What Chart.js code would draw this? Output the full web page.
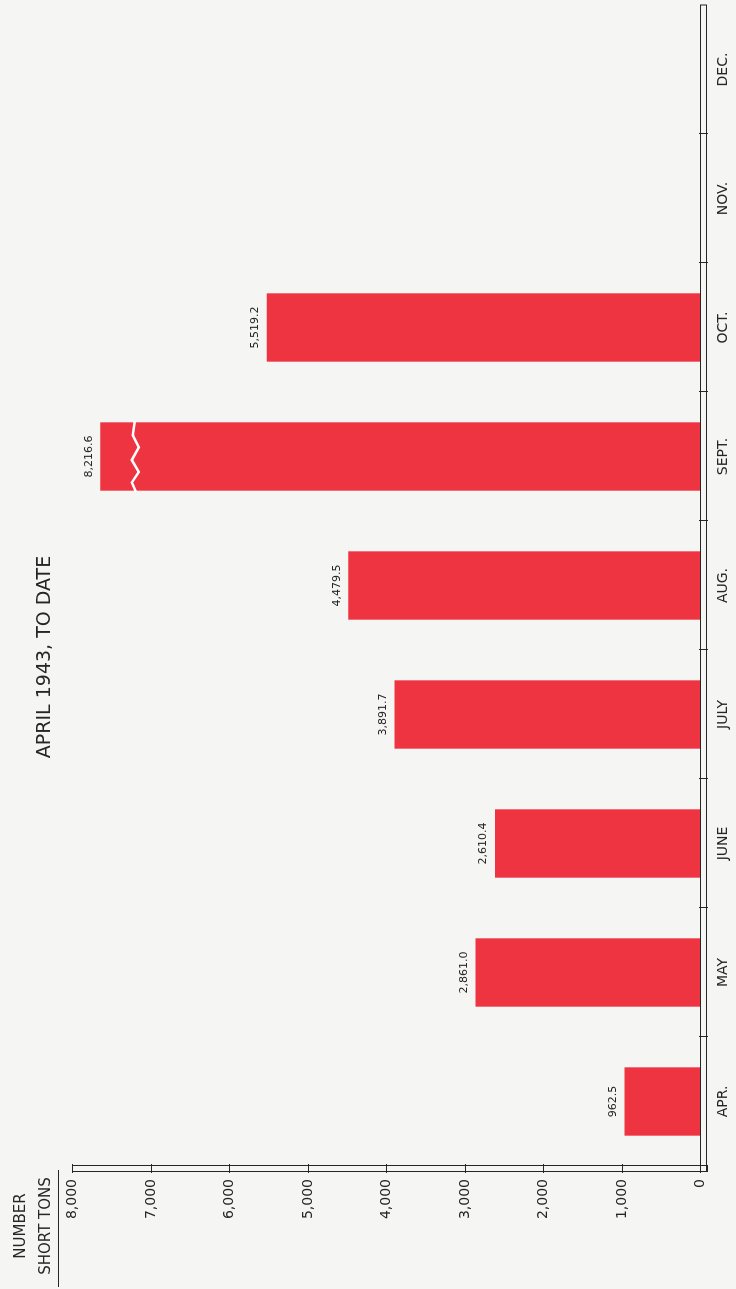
<!DOCTYPE html>
<html>
<head>
<meta charset="utf-8">
<title>April 1943, to date</title>
<script src="https://cdn.jsdelivr.net/npm/chart.js@4.4.1/dist/chart.umd.min.js"></script>
<style>
    html, body { margin: 0; padding: 0; width: 736px; height: 1289px; overflow: hidden; background: #f5f5f4; }
    /* The chart is drawn landscape and turned a quarter turn, like the printed page */
    #giro { position: absolute; left: 0; top: 0; width: 1289px; height: 736px;
            transform-origin: 0 0; transform: translate(0, 1289px) rotate(-90deg); }
</style>
</head>
<body>
<div id="giro"><canvas id="graficoToneladas" width="1289" height="736"></canvas></div>
<script>
// --- Data ---
const meses = ['APR.', 'MAY', 'JUNE', 'JULY', 'AUG.', 'SEPT.', 'OCT.', 'NOV.', 'DEC.'];
const toneladas = [962.5, 2861.0, 2610.4, 3891.7, 4479.5, 8216.6, 5519.2, null, null];
// SEPT. runs off the scale, so the printed bar is cut short with a break mark
const largoBarra = [962.5, 2861.0, 2610.4, 3891.7, 4479.5, 7640, 5519.2, null, null];
const corteSept = 7200;
const ticksValor = [0, 1000, 2000, 3000, 4000, 5000, 6000, 7000, 8000];

const titulo = 'APRIL 1943, TO DATE';
const unidad = ['NUMBER', 'SHORT TONS'];

const fuente = '"DejaVu Sans", sans-serif';
const tinta = '#262626';

// Axes, labels and the break mark drawn on top of the bars
const dibujoEjes = {
    id: 'dibujoEjes',
    afterDraw(chart) {
        const { ctx, chartArea, scales: { x, y } } = chart;
        const base = y.getPixelForValue(0);
        const tope = y.getPixelForValue(ticksValor[ticksValor.length - 1]);
        const paso = (chartArea.right - chartArea.left) / meses.length;
        ctx.save();
        ctx.strokeStyle = tinta;
        ctx.fillStyle = tinta;
        ctx.lineWidth = 1;

        // double-line axes
        ctx.strokeRect(117.5, tope + 0.5, 6, base - tope + 7);
        ctx.strokeRect(117.5, base + 0.5, chartArea.right - 117.5, 6);

        // value ticks and labels
        ctx.font = '14px ' + fuente;
        ctx.textAlign = 'right';
        ctx.textBaseline = 'middle';
        ticksValor.forEach(t => {
            const py = Math.round(y.getPixelForValue(t)) + 0.5;
            ctx.beginPath();
            ctx.moveTo(116, py);
            ctx.lineTo(125, py);
            ctx.stroke();
            ctx.fillText(t.toLocaleString('en-US'), 110, py);
        });

        // category ticks and labels
        ctx.textAlign = 'center';
        ctx.textBaseline = 'top';
        meses.forEach((m, i) => {
            const px = x.getPixelForValue(i);
            if (i > 0) {
                const borde = Math.round(px - paso / 2) + 0.5;
                ctx.beginPath();
                ctx.moveTo(borde, base - 1);
                ctx.lineTo(borde, base + 8);
                ctx.stroke();
            }
            ctx.fillText(m, px, base + 16);
        });

        // value labels over the bars
        ctx.font = '11px ' + fuente;
        ctx.textBaseline = 'bottom';
        toneladas.forEach((v, i) => {
            if (v === null) return;
            const texto = v.toLocaleString('en-US', { minimumFractionDigits: 1, maximumFractionDigits: 1 });
            ctx.fillText(texto, x.getPixelForValue(i), y.getPixelForValue(largoBarra[i]) - 6);
        });

        // break mark on SEPT.
        const iSept = meses.indexOf('SEPT.');
        const barra = chart.getDatasetMeta(0).data[iSept];
        const medio = barra.width / 2;
        const cy = y.getPixelForValue(corteSept);
        const zig = [[0, 0], [0.2, -2], [0.37, 4], [0.55, -3], [0.72, 4], [0.87, -3], [1, 1]];
        ctx.strokeStyle = '#ffffff';
        ctx.lineWidth = 2.5;
        ctx.beginPath();
        zig.forEach(([t, d], k) => {
            const px = barra.x + medio + 1 - t * (barra.width + 2);
            if (k === 0) ctx.moveTo(px, cy + d); else ctx.lineTo(px, cy + d);
        });
        ctx.stroke();

        // title and unit label
        ctx.fillStyle = tinta;
        ctx.strokeStyle = tinta;
        ctx.lineWidth = 1;
        ctx.font = '19px ' + fuente;
        ctx.textBaseline = 'middle';
        ctx.fillText(titulo, 632, 45);

        ctx.font = '15px ' + fuente;
        ctx.fillText(unidad[0], 63, 21);
        ctx.fillText(unidad[1], 63, 46);
        ctx.beginPath();
        ctx.moveTo(2, 58.5);
        ctx.lineTo(119, 58.5);
        ctx.stroke();
        ctx.restore();
    }
};

document.addEventListener('DOMContentLoaded', function() {
    const ctxToneladas = document.getElementById('graficoToneladas');

    new Chart(ctxToneladas, {
        type: 'bar',
        data: {
            labels: meses,
            datasets: [{
                label: 'Short tons',
                data: largoBarra,
                backgroundColor: '#ef3441',
                borderWidth: 0,
                barPercentage: 0.53,
                categoryPercentage: 1.0
            }]
        },
        options: {
            responsive: false,
            devicePixelRatio: 1,
            animation: false,
            layout: {
                padding: { left: 123, right: 5, top: 72, bottom: 36 }
            },
            scales: {
                x: { display: false, offset: true },
                y: { display: false, min: 0, max: 8000 }
            },
            plugins: {
                legend: { display: false },
                tooltip: { enabled: false }
            }
        },
        plugins: [dibujoEjes]
    });
});
</script>
</body>
</html>
